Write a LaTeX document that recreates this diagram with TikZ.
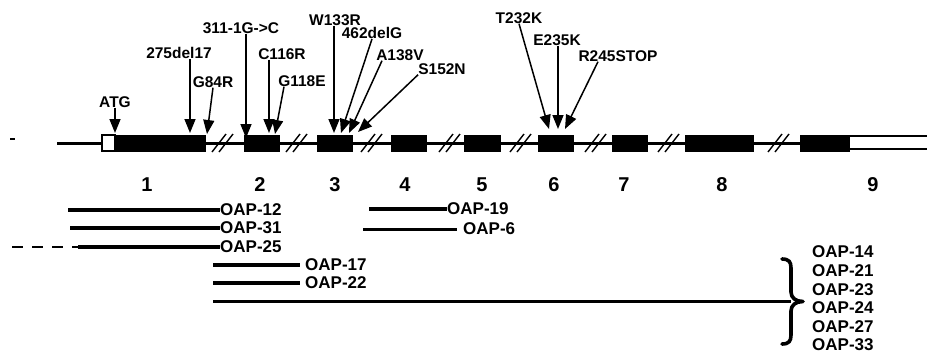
\documentclass[tikz,border=0pt]{standalone}
\usepackage{fontspec}
\setmainfont{Liberation Sans}
\usetikzlibrary{arrows.meta}
\tikzset{
	exon/.style={rectangle, fill=black, draw=black, line width=0.8pt, minimum height=16pt, inner sep=0pt},
	utrbox/.style={exon, fill=white, line width=1.3pt},
	gene/.style={line width=3pt},
	brk/.style={line width=1.4pt},
	mutlbl/.style={font=\bfseries\fontsize{15.5}{17}\selectfont, inner sep=0pt},
	mutarr/.style={-{Triangle[length=14pt, width=11pt]}, line width=1.5pt},
	exnum/.style={font=\bfseries\fontsize{20}{22}\selectfont, inner sep=0pt},
	clone/.style={line width=3.8pt},
	clonelbl/.style={font=\bfseries\fontsize{17}{18.6}\selectfont, inner sep=0pt, anchor=west, align=left},
	bracepath/.style={line width=3.6pt, line cap=round, line join=round}
}

\begin{document}
\begin{tikzpicture}[x=1pt, y=-1pt]
	\useasboundingbox (0,0) rectangle (927,354);
	% exons
	\node[utrbox, minimum width=13pt] (u1) at (108.5,143) {};
	\node[exon, minimum width=90pt] (e1) at (160,143) {};
	\node[exon, minimum width=35pt] (e2) at (261.5,143) {};
	\node[exon, minimum width=35pt] (e3) at (334.5,143) {};
	\node[exon, minimum width=35pt] (e4) at (408.5,143) {};
	\node[exon, minimum width=36pt] (e5) at (482,143) {};
	\node[exon, minimum width=35pt] (e6) at (555.5,143) {};
	\node[exon, minimum width=35pt] (e7) at (629.5,143) {};
	\node[exon, minimum width=68pt] (e8) at (719,143) {};
	\node[exon, minimum width=49pt] (e9) at (824.5,143) {};
	\coordinate (gstart) at (57,143);
	\coordinate (uend) at (927,143);
	\draw[gene] (gstart) -- (u1.west);
	\draw[gene] (e1.east) -- (e9.west);
	\draw[line width=1.6pt] (e9.east |- 0,136) -- (uend |- 0,136) (e9.east |- 0,149) -- (uend |- 0,149);
	\draw[line width=1.5pt] (10,139) -- (15,139);
	% breaks
	\draw[brk] (212,152) -- (226,134) (219,152) -- (233,134);
	\draw[brk] (286,152) -- (300,134) (293,152) -- (307,134);
	\draw[brk] (361,152) -- (375,134) (368,152) -- (382,134);
	\draw[brk] (439,152) -- (453,134) (446,152) -- (460,134);
	\draw[brk] (510,152) -- (524,134) (517,152) -- (531,134);
	\draw[brk] (585,152) -- (599,134) (592,152) -- (606,134);
	\draw[brk] (658,152) -- (672,134) (665,152) -- (679,134);
	\draw[brk] (768,152) -- (782,134) (775,152) -- (789,134);
	% exon numbers
	\node[exnum] (n1) at (147,185) {1};
	\node[exnum] (n2) at (260,185) {2};
	\node[exnum] (n3) at (335,185) {3};
	\node[exnum] (n4) at (405,185) {4};
	\node[exnum] (n5) at (482,185) {5};
	\node[exnum] (n6) at (554,185) {6};
	\node[exnum] (n7) at (624,185) {7};
	\node[exnum] (n8) at (722,185) {8};
	\node[exnum] (n9) at (873,185) {9};
	% mutations
	\node[mutlbl] (mATG) at (115,102) {ATG};
	\node[mutlbl] (m275) at (179,53) {275del17};
	\node[mutlbl] (mG84R) at (213,82) {G84R};
	\node[mutlbl] (m311) at (241,28) {311-1G->C};
	\node[mutlbl] (mC116R) at (282,54) {C116R};
	\node[mutlbl] (mG118E) at (302,81) {G118E};
	\node[mutlbl] (mW133R) at (335,20) {W133R};
	\node[mutlbl] (m462) at (372,33) {462delG};
	\node[mutlbl] (mA138V) at (400,55) {A138V};
	\node[mutlbl] (mS152N) at (442,69) {S152N};
	\node[mutlbl] (mT232K) at (519,18) {T232K};
	\node[mutlbl] (mE235K) at (557,40) {E235K};
	\node[mutlbl] (mR245) at (618,56) {R245STOP};
	\coordinate (tATG) at (115,133);
	\coordinate (t275) at (190,133);
	\coordinate (tG84R) at (207,134);
	\coordinate (t311) at (246,138);
	\coordinate (tC116R) at (269,133);
	\coordinate (tG118E) at (275,134);
	\coordinate (tW133R) at (334,133);
	\coordinate (t462) at (341,133);
	\coordinate (tA138V) at (349,133);
	\coordinate (tS152N) at (358,132);
	\coordinate (tT232K) at (549,129);
	\coordinate (tE235K) at (558,129);
	\coordinate (tR245) at (565,129);
	\draw[mutarr] (mATG.south) -- (tATG);
	\draw[mutarr] (m275.south -| t275) -- (t275);
	\draw[mutarr] (mG84R.south) -- (tG84R);
	\draw[mutarr] (m311.south -| t311) -- (t311);
	\draw[mutarr] (mC116R.south -| tC116R) -- (tC116R);
	\draw[mutarr] ([xshift=-18pt]mG118E.south) -- (tG118E);
	\draw[mutarr] (mW133R.south -| tW133R) -- (tW133R);
	\draw[mutarr] (m462.south) -- (t462);
	\draw[mutarr] ([xshift=-18pt]mA138V.south) -- (tA138V);
	\draw[mutarr] (mS152N.south west) -- (tS152N);
	\draw[mutarr] (mT232K.south) -- (tT232K);
	\draw[mutarr] (mE235K.south -| tE235K) -- (tE235K);
	\draw[mutarr] ([xshift=-20pt]mR245.south) -- (tR245);
	% clones
	\node[clonelbl] (oap12) at (220,210) {OAP-12};
	\node[clonelbl] (oap31) at (220,228) {OAP-31};
	\node[clonelbl] (oap25) at (220,247) {OAP-25};
	\node[clonelbl] (oap17) at (305,265) {OAP-17};
	\node[clonelbl] (oap22) at (305,283) {OAP-22};
	\node[clonelbl] (oap19) at (447,209) {OAP-19};
	\node[clonelbl] (oap6) at (463,229) {OAP-6};
	\node[clonelbl] (oapgrp) at (812,298.5) {OAP-14\\OAP-21\\OAP-23\\OAP-24\\OAP-27\\OAP-33};
	\coordinate (c12) at (68,210);
	\coordinate (c31) at (70,228);
	\coordinate (c25) at (78,247);
	\coordinate (c25d) at (12,247);
	\coordinate (c17) at (213,265);
	\coordinate (c22) at (213,283);
	\coordinate (c19) at (369,209);
	\coordinate (c6) at (363,229);
	\coordinate (cgrp) at (213,301.5);
	\coordinate (brc) at (791,301.5);
	\draw[clone] (c12) -- (oap12.west);
	\draw[clone] (c31) -- (oap31.west);
	\draw[clone] (c25) -- (oap25.west);
	\draw[line width=1.5pt, dash pattern=on 11pt off 9pt] (c25d) -- (c25);
	\draw[clone] (c17) -- ([xshift=-5pt]oap17.west);
	\draw[clone] (c22) -- ([xshift=-5pt]oap22.west);
	\draw[clone] (c19) -- (oap19.west);
	\draw[clone, line width=3pt] (c6) -- ([xshift=-6pt]oap6.west);
	\draw[clone] (cgrp) -- (brc);
	% brace
	\draw[bracepath] (782,259) .. controls (789,259) and (791,262) .. (791,268) -- (791,292)
		.. controls (791,298) and (796,301.5) .. (803,301.5)
		.. controls (796,301.5) and (791,305) .. (791,311) -- (791,335)
		.. controls (791,341) and (789,344) .. (782,344);
\end{tikzpicture}
\end{document}
